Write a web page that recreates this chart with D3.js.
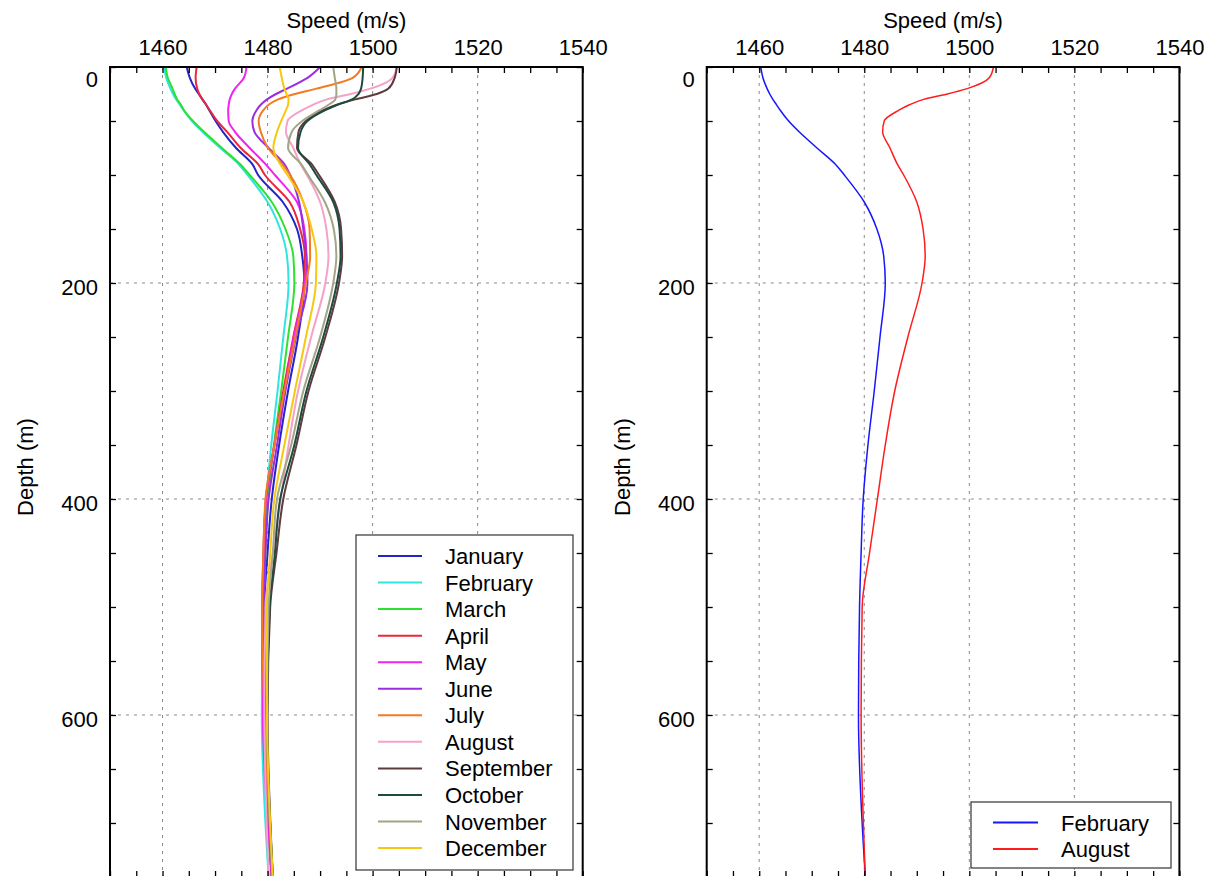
<!DOCTYPE html>
<html>
<head>
<meta charset="utf-8">
<script src="https://cdn.jsdelivr.net/npm/d3@7"></script>
<style>
  html, body { margin: 0; padding: 0; background: #fff; }
  svg { display: block; }
  text { font-family: "Liberation Sans", Arial, Helvetica, sans-serif; fill: #000; }
</style>
</head>
<body>
<svg id="chart" width="1210" height="876"></svg>
<script>
// Monthly sound-speed profiles (m/s) at standard depth levels (m)
const depths = [0, 10, 20, 25, 30, 35, 40, 50, 60, 75, 90, 100, 125, 150, 175, 200, 250, 300, 350, 400, 450, 500, 600, 750];

const january   = [1464.6, 1465.2, 1466.2, 1466.9, 1467.6, 1468.3, 1468.9, 1470.1, 1471.5, 1474.0, 1477.1, 1478.2, 1482.9, 1485.6, 1486.6, 1487.0, 1485.8, 1483.9, 1482.2, 1480.8, 1480.0, 1479.4, 1479.5, 1480.9];
const february  = [1460.3, 1460.7, 1461.5, 1462.0, 1462.6, 1463.3, 1464.0, 1465.6, 1467.6, 1471.0, 1474.5, 1476.2, 1480.0, 1482.4, 1483.7, 1484.0, 1483.0, 1481.9, 1480.7, 1479.8, 1479.4, 1479.1, 1478.9, 1480.2];
const march     = [1460.6, 1461.0, 1461.9, 1462.3, 1462.8, 1463.5, 1464.1, 1465.8, 1467.9, 1471.3, 1474.8, 1476.6, 1480.8, 1483.4, 1484.9, 1485.1, 1483.9, 1482.6, 1481.2, 1480.1, 1479.6, 1479.3, 1479.3, 1480.7];
const april     = [1466.5, 1466.3, 1466.6, 1467.0, 1467.6, 1468.3, 1469.0, 1470.4, 1472.3, 1474.9, 1478.2, 1479.5, 1484.2, 1486.2, 1487.1, 1486.9, 1484.9, 1483.0, 1481.3, 1479.7, 1479.2, 1479.0, 1479.2, 1480.8];
const may       = [1476.0, 1475.5, 1473.8, 1473.2, 1472.8, 1472.6, 1472.5, 1472.6, 1473.8, 1476.6, 1479.6, 1481.4, 1485.6, 1487.0, 1487.4, 1487.1, 1485.0, 1483.2, 1481.3, 1479.7, 1479.3, 1479.0, 1479.1, 1480.8];
const june      = [1490.0, 1487.6, 1483.7, 1481.6, 1479.9, 1478.7, 1477.9, 1477.1, 1477.5, 1480.2, 1483.2, 1484.3, 1486.0, 1486.8, 1487.4, 1487.6, 1485.4, 1483.4, 1481.8, 1480.2, 1479.6, 1479.3, 1479.5, 1480.9];
const july      = [1497.9, 1496.2, 1489.3, 1485.2, 1482.0, 1480.2, 1479.2, 1478.3, 1478.7, 1480.1, 1482.8, 1484.3, 1486.8, 1488.0, 1488.1, 1487.3, 1485.3, 1483.2, 1481.3, 1479.6, 1479.2, 1479.0, 1479.4, 1481.0];
const august    = [1504.6, 1503.8, 1499.6, 1495.8, 1491.3, 1488.6, 1486.6, 1483.8, 1483.5, 1484.9, 1486.3, 1487.5, 1490.0, 1491.2, 1491.6, 1491.0, 1488.3, 1485.8, 1484.0, 1482.5, 1481.0, 1479.6, 1479.4, 1480.2];
const september = [1504.6, 1504.2, 1503.0, 1500.8, 1496.7, 1493.2, 1490.6, 1487.3, 1485.9, 1485.6, 1488.4, 1489.8, 1492.8, 1494.0, 1494.2, 1493.6, 1491.0, 1487.8, 1485.5, 1483.0, 1481.7, 1480.5, 1480.0, 1481.0];
const october   = [1498.2, 1498.1, 1497.8, 1497.3, 1496.1, 1493.3, 1491.0, 1487.6, 1486.3, 1485.8, 1488.0, 1489.3, 1492.5, 1493.7, 1493.9, 1493.2, 1490.6, 1487.4, 1485.1, 1482.4, 1481.4, 1480.4, 1479.9, 1481.0];
const november  = [1492.5, 1492.8, 1493.1, 1493.1, 1492.9, 1491.6, 1489.9, 1486.6, 1484.6, 1483.9, 1486.4, 1487.7, 1490.9, 1492.6, 1493.1, 1492.5, 1490.0, 1486.8, 1484.5, 1481.8, 1481.0, 1480.2, 1479.9, 1480.9];
const december  = [1482.3, 1482.7, 1483.2, 1483.6, 1484.0, 1483.9, 1483.5, 1482.6, 1481.8, 1481.1, 1482.4, 1483.8, 1486.8, 1488.4, 1489.3, 1489.2, 1487.3, 1485.2, 1483.2, 1481.3, 1480.5, 1479.9, 1479.9, 1481.0];

const monthNames  = ["January", "February", "March", "April", "May", "June", "July", "August", "September", "October", "November", "December"];
const monthValues = [january, february, march, april, may, june, july, august, september, october, november, december];
const monthColors = ["#2424c8", "#30e4e0", "#30e030", "#e8283a", "#f024ee", "#9a2ee0", "#f47a22", "#f4a2c8", "#5e3c3e", "#1e4a40", "#a4a486", "#f6c812"];

// Two-month comparison panel
const compareNames  = ["February", "August"];
const compareValues = [february, august];
const compareColors = ["#1616ff", "#ff1c1c"];

const speedTickLabels = [1460, 1480, 1500, 1520, 1540];
const depthTickLabels = [0, 200, 400, 600];

const svg = d3.select("#chart");
svg.append("rect").attr("width", 1210).attr("height", 876).attr("fill", "#fff");

const FONT = 22;
const TOP = 67, BOTTOM = 877;

function drawPanel(left, right, names, values, colors, lineWidth, legend, id) {
  const x = d3.scaleLinear().domain([1450, 1540]).range([left, right]);
  const y = d3.scaleLinear().domain([0, 750]).range([TOP, BOTTOM]);
  const g = svg.append("g");

  // dashed grid
  const grid = g.append("g").attr("stroke", "#8a8a8a").attr("stroke-width", 1)
    .attr("stroke-dasharray", "3,5").attr("fill", "none");
  speedTickLabels.filter(v => v < 1540).forEach(v => {
    grid.append("line").attr("x1", x(v)).attr("x2", x(v)).attr("y1", TOP).attr("y2", BOTTOM);
  });
  depthTickLabels.filter(v => v > 0).forEach(v => {
    grid.append("line").attr("x1", left).attr("x2", right).attr("y1", y(v)).attr("y2", y(v));
  });

  // profiles
  const clipId = "clip-" + id;
  g.append("clipPath").attr("id", clipId).append("rect")
    .attr("x", left).attr("y", TOP).attr("width", right - left).attr("height", BOTTOM - TOP);
  const line = d3.line().x(p => x(p[1])).y(p => y(p[0])).curve(d3.curveMonotoneY);
  const lines = g.append("g").attr("clip-path", `url(#${clipId})`);
  values.forEach((vals, i) => {
    lines.append("path")
      .attr("d", line(depths.map((d, k) => [d, vals[k]])))
      .attr("fill", "none").attr("stroke", colors[i])
      .attr("stroke-width", lineWidth).attr("stroke-linejoin", "round");
  });

  // minor ticks, pointing inward on all four sides
  const minorX = d3.range(1450, 1541, 5);
  const minorY = d3.range(0, 751, 50);
  const tickStyle = sel => {
    sel.select(".domain").remove();
    sel.selectAll(".tick line").attr("stroke", "#000").attr("stroke-width", 1.3);
    sel.selectAll(".tick text").remove();
  };
  g.append("g").attr("transform", `translate(0,${TOP})`)
    .call(d3.axisTop(x).tickValues(minorX).tickSize(-6)).call(tickStyle);
  g.append("g").attr("transform", `translate(0,${BOTTOM})`)
    .call(d3.axisBottom(x).tickValues(minorX).tickSize(-6)).call(tickStyle);
  g.append("g").attr("transform", `translate(${left},0)`)
    .call(d3.axisLeft(y).tickValues(minorY).tickSize(-6)).call(tickStyle);
  g.append("g").attr("transform", `translate(${right},0)`)
    .call(d3.axisRight(y).tickValues(minorY).tickSize(-6)).call(tickStyle);

  // tick labels
  const xLab = g.append("g").attr("transform", `translate(0,${TOP})`)
    .call(d3.axisTop(x).tickValues(speedTickLabels).tickSize(0).tickPadding(12).tickFormat(d3.format("d")));
  xLab.select(".domain").remove();
  xLab.selectAll("text").attr("font-size", FONT).attr("font-family", null).attr("fill", "#000");

  const yLab = g.append("g").attr("transform", `translate(${left},0)`)
    .call(d3.axisLeft(y).tickValues(depthTickLabels).tickSize(0).tickPadding(12).tickFormat(d3.format("d")));
  yLab.select(".domain").remove();
  yLab.selectAll("text").attr("font-size", FONT).attr("font-family", null).attr("fill", "#000")
    .attr("dy", d => d === 0 ? "0.9em" : "0.5em");

  // frame
  g.append("rect").attr("x", left).attr("y", TOP).attr("width", right - left).attr("height", BOTTOM - TOP)
    .attr("fill", "none").attr("stroke", "#000").attr("stroke-width", 2);

  // axis titles
  g.append("text").attr("x", (left + right) / 2).attr("y", 28).attr("text-anchor", "middle")
    .attr("font-size", FONT).text("Speed (m/s)");
  g.append("text").attr("transform", `translate(${left - 77},${(TOP + BOTTOM) / 2 - 5}) rotate(-90)`)
    .attr("text-anchor", "middle").attr("font-size", FONT).text("Depth (m)");

  // legend
  const lg = g.append("g");
  lg.append("rect").attr("x", legend.x0).attr("y", legend.y0)
    .attr("width", legend.x1 - legend.x0).attr("height", legend.y1 - legend.y0)
    .attr("fill", "#fff").attr("stroke", "#333").attr("stroke-width", 1.2);
  names.forEach((name, i) => {
    const cy = legend.firstRow + i * legend.rowStep;
    lg.append("line").attr("x1", legend.lineX0).attr("x2", legend.lineX1)
      .attr("y1", cy).attr("y2", cy).attr("stroke", colors[i]).attr("stroke-width", 2);
    lg.append("text").attr("x", legend.textX).attr("y", cy + 8).attr("font-size", FONT).text(name);
  });
}

drawPanel(110, 582.7, monthNames, monthValues, monthColors, 2,
  { x0: 356, y0: 535, x1: 573, y1: 870, firstRow: 556, rowStep: 26.55, lineX0: 378, lineX1: 422, textX: 445 }, "months");

drawPanel(706.7, 1179.4, compareNames, compareValues, compareColors, 1.5,
  { x0: 971, y0: 802, x1: 1171, y1: 868, firstRow: 822.5, rowStep: 26.6, lineX0: 993, lineX1: 1038, textX: 1061 }, "compare");
</script>
</body>
</html>
